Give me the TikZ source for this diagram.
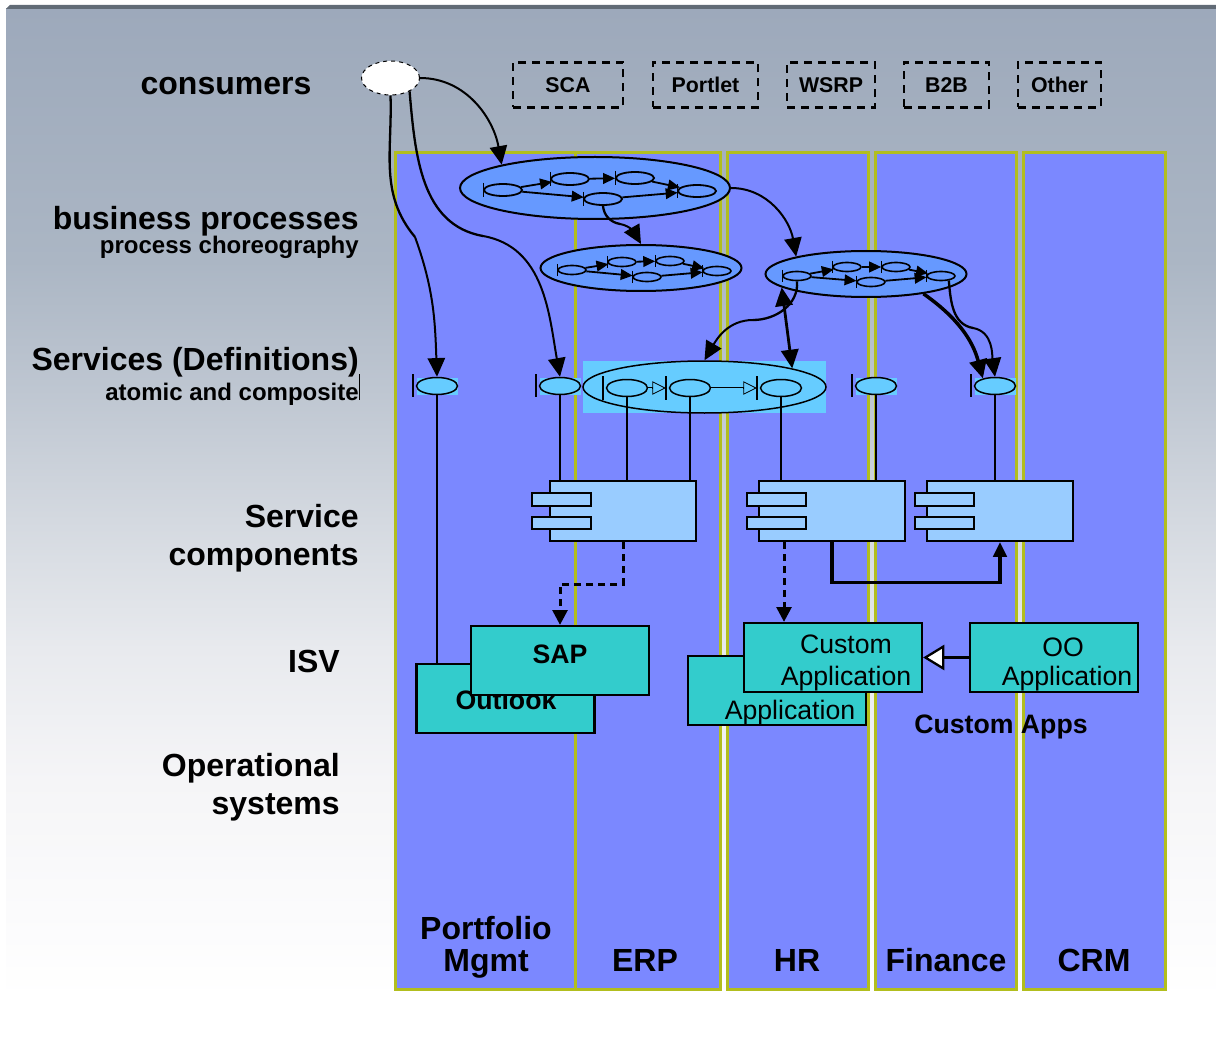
\documentclass[tikz,border=0pt]{standalone}
\usepackage{fontspec}
\setmainfont{Liberation Sans}
\usepackage{tikz}
\usetikzlibrary{calc}
\usetikzlibrary{positioning}
\usetikzlibrary{shapes.geometric}
\usetikzlibrary{arrows.meta}
\def\px{0.75pt}
\definecolor{lanefill}{HTML}{7B88FF}
\definecolor{laneedge}{HTML}{B2BE1E}
\definecolor{procfill}{HTML}{6699FF}
\definecolor{opfill}{HTML}{66CCFF}
\definecolor{compfill}{HTML}{99CCFF}
\definecolor{appfill}{HTML}{33CCCC}
\definecolor{skytop}{HTML}{9DA9BB}
\definecolor{skya}{HTML}{ABB6C4}
\definecolor{skyb}{HTML}{BEC6D1}
\definecolor{skyc}{HTML}{D4D9E0}
\definecolor{skyd}{HTML}{E8EAEE}
\definecolor{skye}{HTML}{F5F5F7}
\definecolor{skyf}{HTML}{FBFBFC}
\definecolor{striptop}{HTML}{616B76}
\pgfdeclareverticalshading{skyfade}{100bp}{color(0bp)=(white); color(25bp)=(white); color(29.5bp)=(skyf); color(36.1bp)=(skye); color(42.7bp)=(skyd); color(49.2bp)=(skyc); color(55.8bp)=(skyb); color(62.3bp)=(skya); color(75bp)=(skytop); color(100bp)=(skytop)}
\tikzstyle{lane} = [draw=laneedge, fill=lanefill, line width=3*\px]
\tikzstyle{rowlabel} = [font=\bfseries\fontsize{24}{28.5}\selectfont, align=right, inner sep=0pt]
\tikzstyle{sublabel} = [font=\bfseries\fontsize{18}{20}\selectfont, inner sep=0pt]
\tikzstyle{lanelabel} = [font=\bfseries\fontsize{24}{24}\selectfont, align=center, inner sep=0pt]
\tikzstyle{channel} = [draw, line width=2.5*\px, dash pattern=on 8*\px off 6*\px, font=\bfseries\fontsize{16}{18}\selectfont, minimum height=45*\px, inner sep=0pt, outer sep=0pt]
\tikzstyle{procnode} = [draw, ellipse, fill=procfill, line width=2*\px, inner sep=0pt]
\tikzstyle{stepbig} = [draw, ellipse, line width=1.8*\px, inner sep=0pt, minimum width=38*\px, minimum height=12*\px]
\tikzstyle{stepsmall} = [draw, ellipse, line width=1.6*\px, inner sep=0pt, minimum width=28*\px, minimum height=9*\px]
\tikzstyle{opnode} = [draw, ellipse, fill=opfill, line width=1.5*\px, inner sep=0pt, minimum width=41*\px, minimum height=17*\px]
\tikzstyle{opback} = [fill=opfill, inner sep=0pt, minimum width=41*\px, minimum height=17*\px]
\tikzstyle{compnode} = [draw, fill=compfill, line width=2.2*\px, inner sep=0pt, minimum width=146*\px, minimum height=60*\px]
\tikzstyle{comptab} = [draw, fill=compfill, line width=2.2*\px, inner sep=0pt, minimum width=59*\px, minimum height=12.5*\px]
\tikzstyle{appnode} = [draw, fill=appfill, line width=2.2*\px, inner sep=0pt, minimum width=178*\px, minimum height=69*\px]
\tikzstyle{apptext} = [inner sep=0pt, font=\fontsize{20}{24}\selectfont, align=center]
\tikzstyle{appbold} = [inner sep=0pt, font=\bfseries\fontsize{20}{24}\selectfont]
\tikzstyle{flow} = [line width=2*\px, -{Triangle[length=14pt, width=13pt]}]
\tikzstyle{flowsmall} = [line width=1.8*\px, -{Triangle[length=9pt, width=8pt]}]
\tikzstyle{wire} = [line width=2.3*\px]
\tikzstyle{dashwire} = [line width=3*\px, dash pattern=on 7*\px off 5*\px, -{Triangle[length=11pt, width=11pt]}]
\tikzstyle{openflow} = [line width=2.2*\px, -{Triangle[open, line width=0.6pt, length=10pt, width=10pt]}]
\begin{document}
\begin{tikzpicture}[x=0.75pt, y=-0.75pt]
  \useasboundingbox (0,0) rectangle (1216,1037);
  \shade[shading=skyfade] (6,9) rectangle (1216,1000);
  \fill[striptop] (6,9) -- (10,5) -- (1216,5) -- (1216,9) -- cycle;

  % lanes
  \foreach \xa/\xb in {395/575, 575/720, 727/868, 875/1016, 1023/1165} {
    \path[lane] (\xa,153) rectangle (\xb,989);
  }

  % left labels
  \node[rowlabel] (consumers) at (226,86) {consumers};
  \node[rowlabel, anchor=east] (business) at (359,221) {business processes};
  \node[sublabel, anchor=east] (choreo) at (359,247) {process choreography};
  \node[rowlabel, anchor=east] (services) at (359,362) {Services (Definitions)};
  \node[sublabel, anchor=east] (atomic) at (359,394) {atomic and composite};
  \draw[line width=0.75*\px] (atomic.east) ++(0,-20) -- ++(0,26);
  \node[rowlabel, anchor=east] (components) at (359,538) {Service\\components};
  \node[rowlabel, anchor=east] (isv) at (340,661) {ISV};
  \node[rowlabel, anchor=east] (operational) at (340,787) {Operational\\systems};

  % lane labels
  \node[lanelabel] (portfolio) at (486,947) {Portfolio\\Mgmt};
  \node[lanelabel] (erp) at (645,960) {ERP};
  \node[lanelabel] (hr) at (797,960) {HR};
  \node[lanelabel] (finance) at (946,960) {Finance};
  \node[lanelabel] (crm) at (1094,960) {CRM};

  % channels
  \node[draw, ellipse, fill=white, dashed, line width=1*\px, inner sep=0pt, minimum width=58*\px, minimum height=34*\px] (user) at (390.5,78) {};
  \node[channel, minimum width=110*\px] (sca) at (568,85) {SCA};
  \node[channel, minimum width=105*\px, right=30*\px of sca] (portlet) {Portlet};
  \node[channel, minimum width=88*\px, right=29*\px of portlet] (wsrp) {WSRP};
  \node[channel, minimum width=85*\px, right=29*\px of wsrp] (btob) {B2B};
  \node[channel, minimum width=83*\px, right=29*\px of btob] (other) {Other};

  % processes
  \node[procnode, minimum width=270*\px, minimum height=62*\px] (procA) at (595,188) {};
  \node[procnode, minimum width=201*\px, minimum height=46*\px] (procB) at (641,268) {};
  \node[procnode, minimum width=201*\px, minimum height=46*\px] (procC) at (866,274) {};
  \foreach \nm/\cx/\cy in {aa/503/190, ab/570/179, ac/635/178, ad/697/191, ae/603/199} {
    \node[stepbig] (\nm) at (\cx,\cy) {};
    \draw[line width=1.2*\px] (\nm.west) ++(0,-7) -- ++(0,14);
  }
  \foreach \nm/\cx/\cy in {ba/572/270, bb/622/262, bc/670/261, bd/717/271, be/647/277,
                           ca/797/276, cb/847/267, cc/896/267, cd/941/276, ce/871/282} {
    \node[stepsmall] (\nm) at (\cx,\cy) {};
    \draw[line width=1.2*\px] (\nm.west) ++(0,-6) -- ++(0,12);
  }
  \foreach \p in {a,b,c} {
    \draw[flowsmall] (\p a) -- (\p b);
    \draw[flowsmall] (\p a) -- (\p e);
    \draw[flowsmall] (\p b) -- (\p c);
    \draw[flowsmall] (\p c) -- (\p d);
    \draw[flowsmall] (\p e) -- (\p d);
  }

  % services
  \foreach \nm/\cx in {sa/437, sb/560, sc/876, sd/995} {
    \node[opback] (\nm back) at (\cx,386) {};
    \node[opnode] (\nm) at (\cx,386) {};
    \draw[line width=1.5*\px] (\nm.west) ++(-3,-12) -- ++(0,23);
  }
  \node[fill=opfill, inner sep=0pt, minimum width=243*\px, minimum height=52*\px] (compositeback) at (704.5,387) {};
  \node[draw, ellipse, line width=1.5*\px, inner sep=0pt, minimum width=243*\px, minimum height=52*\px] (composite) at (704.5,387) {};
  \foreach \nm/\cx in {pa/627, pb/690, pc/781} {
    \node[opnode] (\nm) at (\cx,388) {};
    \draw[line width=1.5*\px] (\nm.west) ++(-3,-12) -- ++(0,24);
  }
  \draw[openflow] (pa.east) -- ([xshift=-3*\px]pb.west);
  \draw[opfill, line width=0.5*\px, shorten >=10pt] (pa.east) -- ([xshift=-3*\px]pb.west);
  \draw[openflow] (pb.east) -- ([xshift=-3*\px]pc.west);
  \draw[opfill, line width=0.5*\px, shorten >=10pt] (pb.east) -- ([xshift=-3*\px]pc.west);

  % service components
  \foreach \nm/\cx/\tabx in {compa/623/12.5, compb/832/18.5, compc/1000/18.5} {
    \node[compnode] (\nm) at (\cx,511) {};
    \node[comptab] (\nm up) at ($(\nm.west)+(\tabx,-11.5)$) {};
    \node[comptab] (\nm low) at ($(\nm.west)+(\tabx,12)$) {};
  }

  % applications
  \node[appnode] (outlookbox) at (505.5,698.5) {};
  \node[appbold] (outlook) at (506,700) {Outlook};
  \node[appnode] (sapbox) at (560,660.5) {};
  \node[appbold] (sap) at (560,654) {SAP};
  \node[appnode] (backapp) at (777,690.5) {};
  \node[apptext] (backtext) at (790,713) {Application};
  \node[appnode] (custombox) at (833,657.5) {};
  \node[apptext] (custom) at (846,663) {Custom\\Application};
  \node[appnode, minimum width=168*\px] (oobox) at (1054,657.5) {};
  \node[apptext] (oohead) at (1063,647) {OO};
  \node[apptext] (ootext) at (1067,679) {Application};
  \node[appbold] (customapps) at (1001,727) {Custom Apps};

  % consumers down to services and processes
  \coordinate (viaA) at (415,237);
  \coordinate (viaB) at (483,236);
  \coordinate (viaC) at (620,224);
  \coordinate (viaD) at (753,320);
  \coordinate (viaE) at (973,328);
  \draw[wire] (user.south) to[out=-88,in=130] (viaA);
  \draw[flow] (viaA) to[out=-70,in=92] (sa.north);
  \draw[wire] (user.-35) to[out=-85,in=170] (viaB);
  \draw[flow] (viaB) to[out=-10,in=100] (sb.north);
  \draw[flow] (user.east) to[out=0,in=100] (procA.166);
  \draw[flow] (procA.east) to[out=0,in=100] (procC.166);
  \draw[wire] (ae.south) to[out=-85,in=170] (viaC);
  \draw[flow] (viaC) to[out=-10,in=120] (procB.north);

  % process c to composite
  \draw[wire] (ca.south) to[out=-85,in=0] (viaD);
  \draw[flow] (viaD) to[out=180,in=60] (composite.north);
  \draw[flow, line width=2.8*\px, {Triangle[length=14pt, width=13pt]}-{Triangle[length=14pt, width=13pt]}] (procC.189) -- (composite.12);
  \draw[flow, line width=3.5*\px] (procC.-19) to[out=-35,in=105] (sd.148);
  \draw[wire] (cd.-30) to[out=-85,in=170] (viaE);
  \draw[flow] (viaE) to[out=-10,in=98] (sd.north);

  % service wires
  \draw[wire] (sa.south) -- (sa.south |- outlookbox.north);
  \draw[wire] (sb.south) -- (sb.south |- compa.north);
  \draw[wire] (pa.south) -- (pa.south |- compa.north);
  \draw[wire] (pb.south) -- (pb.south |- compa.north);
  \draw[wire] (pc.south) -- (pc.south |- compb.north);
  \draw[wire] (sc.south) -- (sc.south |- compb.north);
  \draw[wire] (sd.south) -- (sd.south |- compc.north);

  % component to application
  \draw[dashwire] (compa.south) -- ++(0,42) -| (sapbox.north);
  \draw[dashwire] ([xshift=-48*\px]compb.south) -- ([xshift=-48*\px]compb.south |- custombox.north);
  \draw[wire, line width=3.2*\px, -{Triangle[length=11pt, width=10pt]}] (compb.south) -- ++(0,40) -| (compc.south);
  \draw[wire, -{Triangle[fill=white, length=16pt, width=19pt]}] (oobox.west) -- (custombox.east);
\end{tikzpicture}
\end{document}
